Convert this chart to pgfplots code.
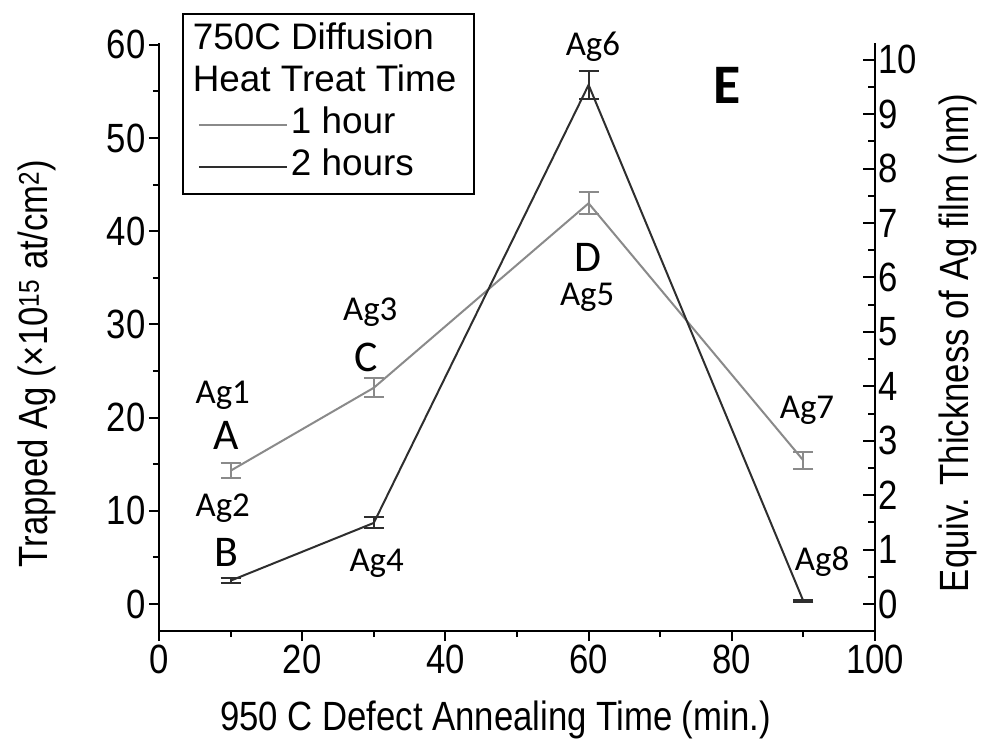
\documentclass[border=0pt]{standalone}
\usepackage{fontspec}
\setmainfont{Liberation Sans}
\newfontfamily\arialn[FakeStretch=0.85]{Liberation Sans}
\newfontfamily\calibri{Carlito}
\usepackage{pgfplots}
\pgfplotsset{compat=1.18}
\definecolor{cone}{HTML}{8A8A8A}
\definecolor{ctwo}{HTML}{2E2E2E}
\begin{document}
\begin{tikzpicture}
\begin{axis}[
  name=ax,
  scale only axis, width=716bp, height=588bp,
  xmin=0, xmax=100, ymin=-2.9, ymax=60.2,
  axis x line*=bottom, axis y line*=left,
  axis line style={line width=2.2bp, -},
  xtick={0,20,...,100}, minor xtick={10,30,50,70,90},
  ytick={0,10,...,60}, minor ytick={5,15,...,55},
  tick align=outside,
  major tick length=10bp, minor tick length=6bp,
  every tick/.style={line width=2bp, black},
  tick label style={font=\arialn\fontsize{41}{44}\selectfont},
  /pgf/number format/assume math mode=true,
  xlabel={950 C Defect Annealing Time (min.)},
  ylabel={Trapped Ag (×10\textsuperscript{15} at/cm\textsuperscript{2})},
  label style={font=\arialn\fontsize{41}{44}\selectfont},
  xlabel style={at={(axis description cs:0.47,-0.151)}, anchor=center},
  ylabel style={at={(axis description cs:-0.17,0.455)}, anchor=center},
  clip=false,
  legend style={at={(axis description cs:0.032,1.051)}, anchor=north west,
    draw=black, line width=1.8bp, inner xsep=15bp, inner ysep=6bp,
    row sep=0bp,
    nodes={inner sep=3bp, text height=27bp, text depth=9bp},
    font=\fontsize{37}{40}\selectfont},
  legend cell align=left,
  legend image code/.code={\draw[#1, line width=2bp] (0bp,0bp) -- (88bp,0bp);},
]
\addlegendimage{empty legend}\addlegendentry{\hspace*{-98bp}750C Diffusion}
\addlegendimage{empty legend}\addlegendentry{\hspace*{-98bp}Heat Treat Time}

\addplot[cone, line width=2bp, mark=none,
  error bars/.cd, y dir=both, y explicit,
  error bar style={line width=2bp, cone},
  error mark options={cone, mark size=10bp, line width=2bp, rotate=90}]
  table[x=x, y=y, y error=e] {
x y e
10 14.3 0.8
30 23.2 1.0
60 43.0 1.2
90 15.4 0.9
};
\addlegendentry{1 hour}

\addplot[ctwo, line width=2bp, mark=none,
  error bars/.cd, y dir=both, y explicit,
  error bar style={line width=2bp, ctwo},
  error mark options={ctwo, mark size=10bp, line width=2bp, rotate=90}]
  table[x=x, y=y, y error=e] {
x y e
10 2.5 0.3
30 8.7 0.6
60 55.7 1.5
90 0.3 0.1
};
\addlegendentry{2 hours}

\begin{scope}[every node/.style={font=\calibri\fontsize{35}{35}\selectfont}]
\node at (axis cs:8.9,22.4) {Ag1};
\node at (axis cs:8.9,10.3) {Ag2};
\node at (axis cs:29.5,31.3) {Ag3};
\node at (axis cs:30.4,4.4) {Ag4};
\node at (axis cs:59.8,32.9) {Ag5};
\node at (axis cs:60.6,59.8) {Ag6};
\node at (axis cs:90.5,20.8) {Ag7};
\node at (axis cs:92.6,4.6) {Ag8};
\end{scope}
\begin{scope}[every node/.style={font=\calibri\fontsize{44}{44}\selectfont}]
\node at (axis cs:9.4,18.1) {A};
\node at (axis cs:9.4,5.5) {B};
\node at (axis cs:28.9,26.5) {C};
\node at (axis cs:59.9,37.2) {D};
\end{scope}
\node[font=\calibri\bfseries\fontsize{56}{56}\selectfont] at (axis cs:79.3,55.7) {E};
\end{axis}

\begin{axis}[
  scale only axis, width=716bp, height=588bp,
  xmin=0, xmax=100, ymin=-0.497, ymax=10.31,
  axis x line=none, axis y line*=right,
  axis line style={line width=2.2bp, -},
  ytick={0,1,...,10}, minor ytick={0.5,1.5,...,9.5},
  tick align=inside,
  major tick length=12bp, minor tick length=7bp,
  every tick/.style={line width=2bp, black},
  tick label style={font=\arialn\fontsize{41}{44}\selectfont},
  /pgf/number format/assume math mode=true,
  ylabel={Equiv. Thickness of Ag film (nm)},
  label style={font=\arialn\fontsize{41}{44}\selectfont},
  ylabel style={at={(axis description cs:1.116,0.49)}, anchor=center},
]
\addplot[draw=none] coordinates {(0,0)};
\end{axis}

\pgfresetboundingbox
\path[use as bounding box] ([shift={(-159bp,-122bp)}]ax.south west) rectangle ([shift={(109bp,43bp)}]ax.north east);
\end{tikzpicture}
\end{document}
